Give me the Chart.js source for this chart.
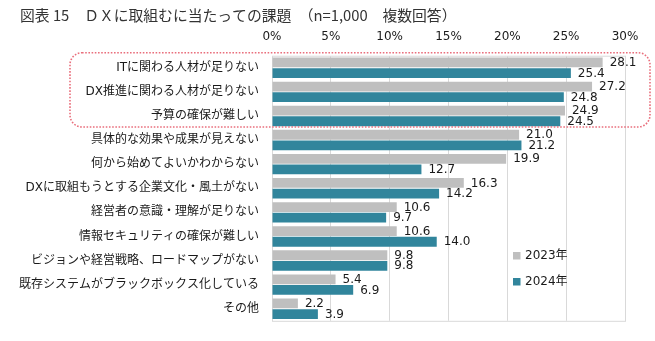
<!DOCTYPE html>
<html lang="ja">
<head>
    <meta charset="UTF-8">
    <title>DXに取組むに当たっての課題</title>
    <script src="https://cdn.jsdelivr.net/npm/chart.js@4"></script>
    <style>
        html, body { margin: 0; padding: 0; background: #fff; }
        #wrap { width: 655px; height: 341px; position: relative; }
    </style>
</head>
<body>
    <div id="wrap"><canvas id="chart"></canvas></div>

    <script>
        // データ
        const categories = [
            'ITに関わる人材が足りない',
            'DX推進に関わる人材が足りない',
            '予算の確保が難しい',
            '具体的な効果や成果が見えない',
            '何から始めてよいかわからない',
            'DXに取組もうとする企業文化・風土がない',
            '経営者の意識・理解が足りない',
            '情報セキュリティの確保が難しい',
            'ビジョンや経営戦略、ロードマップがない',
            '既存システムがブラックボックス化している',
            'その他'
        ];
        const seriesNames = ['2023年', '2024年'];
        const values2023 = [28.1, 27.2, 24.9, 21.0, 19.9, 16.3, 10.6, 10.6, 9.8, 5.4, 2.2];
        const values2024 = [25.4, 24.8, 24.5, 21.2, 12.7, 14.2, 9.7, 14.0, 9.8, 6.9, 3.9];
        const axisMin = 0, axisMax = 30, axisStep = 5;
        const titleText = '図表 15　ＤＸに取組むに当たっての課題　（n=1,000　複数回答）';

        const FONT = "'DejaVu Sans', 'Noto Sans CJK JP', sans-serif";
        const colors = ['#bfbfbf', '#31859c'];

        // 値ラベル・枠・凡例・タイトルを描く
        const extras = {
            id: 'extras',
            beforeDatasetsDraw(chart) {
                const { ctx, chartArea: a } = chart;
                ctx.save();
                ctx.strokeStyle = '#d9d9d9';
                ctx.lineWidth = 1;
                ctx.strokeRect(a.left + 0.5, a.top + 0.5, a.right - a.left, a.bottom - a.top);
                ctx.restore();
            },
            afterDatasetsDraw(chart) {
                const { ctx, chartArea: a } = chart;
                const yScale = chart.scales.y;
                ctx.save();
                ctx.font = '12px ' + FONT;
                ctx.fillStyle = '#1a1a1a';
                ctx.textBaseline = 'middle';
                ctx.textAlign = 'left';
                chart.data.datasets.forEach((ds, i) => {
                    chart.getDatasetMeta(i).data.forEach((bar, j) => {
                        ctx.fillText(ds.data[j].toFixed(1), bar.x + 7, bar.y + 0.5);
                    });
                });

                // 上位3項目を囲む点線の角丸枠
                const half = (yScale.getPixelForValue(1) - yScale.getPixelForValue(0)) / 2;
                const top = yScale.getPixelForValue(0) - half - 3;
                const bottom = yScale.getPixelForValue(2) + half - 1;
                const left = a.left - 202, right = a.right + 25;
                ctx.strokeStyle = '#e96f7c';
                ctx.lineWidth = 1.6;
                ctx.setLineDash([1.6, 1.6]);
                ctx.beginPath();
                ctx.roundRect(left, top, right - left, bottom - top, 12);
                ctx.stroke();
                ctx.setLineDash([]);

                // 凡例
                const lx = 513, ly = [256, 282];
                seriesNames.forEach((name, i) => {
                    ctx.fillStyle = colors[i];
                    ctx.fillRect(lx, ly[i] - 4, 7.5, 7.5);
                    ctx.fillStyle = '#1a1a1a';
                    ctx.font = '12px ' + FONT;
                    ctx.fillText(name, lx + 12, ly[i]);
                });

                // タイトル
                ctx.font = "14.8px 'Noto Sans CJK JP', sans-serif";
                ctx.fillStyle = '#333';
                ctx.fillText(titleText, 20, 15);
                ctx.restore();
            }
        };

        new Chart(document.getElementById('chart'), {
            type: 'bar',
            data: {
                labels: categories,
                datasets: [
                    { label: seriesNames[0], data: values2023, backgroundColor: colors[0] },
                    { label: seriesNames[1], data: values2024, backgroundColor: colors[1] }
                ]
            },
            options: {
                indexAxis: 'y',
                responsive: true,
                maintainAspectRatio: false,
                animation: false,
                categoryPercentage: 0.88,
                barPercentage: 0.92,
                layout: { padding: { top: 0, left: 0, right: 30, bottom: 8 } },
                plugins: {
                    legend: { display: false },
                    tooltip: { enabled: false }
                },
                scales: {
                    x: {
                        position: 'top',
                        min: axisMin,
                        max: axisMax,
                        ticks: {
                            stepSize: axisStep,
                            padding: 12,
                            color: '#1a1a1a',
                            font: { family: FONT, size: 12 },
                            callback: v => v + '%'
                        },
                        grid: { color: '#d9d9d9', drawTicks: false },
                        border: { display: false },
                        afterFit(scale) { scale.height = 55.7; }
                    },
                    y: {
                        ticks: {
                            padding: 13,
                            color: '#1a1a1a',
                            font: { family: FONT, size: 12 }
                        },
                        grid: { display: false, drawTicks: false },
                        border: { display: false },
                        afterFit(scale) { scale.width = 272; }
                    }
                }
            },
            plugins: [extras]
        });
    </script>
</body>
</html>
